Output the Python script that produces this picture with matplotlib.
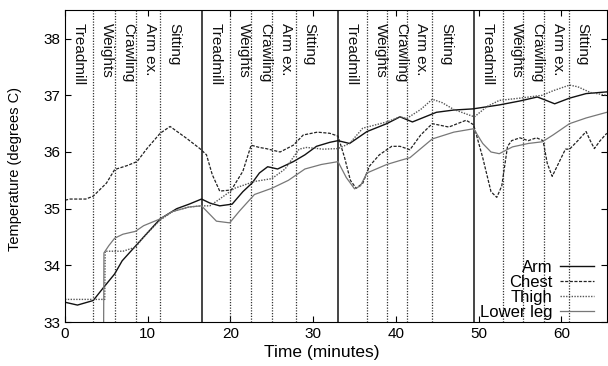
import matplotlib
matplotlib.use("Agg")
import matplotlib.pyplot as plt

plt.rcParams['font.family'] = ['Liberation Sans', 'DejaVu Sans']

# series
arm_t = [0, 1.5, 3.4, 4.6, 6, 6.9, 8.45, 10, 11.5, 13.5, 15, 16.5, 17.5, 18.7, 20.2, 21.5, 22.6, 23.5,
         24.5, 25.7, 27.6, 29, 30.4, 32, 33, 34.4, 36.5, 38.9, 40.5, 42, 44.9, 47, 49.3, 52.5, 55, 57.1,
         58, 59.2, 61, 63, 65.5]
arm_v = [33.35, 33.3, 33.38, 33.6, 33.85, 34.08, 34.33, 34.58, 34.82, 35.0, 35.08, 35.17, 35.1, 35.05,
         35.08, 35.3, 35.45, 35.63, 35.74, 35.7, 35.83, 35.95, 36.1, 36.17, 36.2, 36.15, 36.36, 36.5,
         36.62, 36.53, 36.7, 36.74, 36.76, 36.83, 36.9, 36.97, 36.92, 36.85, 36.95, 37.03, 37.06]

chest_t = [0, 0.6, 2.5, 3.4, 5, 6, 7.5, 8.7, 9.9, 11.5, 12.7, 14.7, 16.3, 17.1, 17.8, 18.7, 20.1, 21.5,
           22.5, 23.5, 24.3, 26, 27.6, 28.8, 30.5, 32, 33, 33.8, 34.5, 35.2, 36, 36.8, 38, 39.5, 40.5,
           41.7, 43, 44.4, 46.4, 48.5, 49.4, 50.5, 51.5, 52.2, 52.8, 53.5, 54, 55, 56, 57, 57.8, 58.3,
           58.9, 59.5, 60.5, 61, 62, 63, 63.5, 64, 64.7, 65.5]
chest_v = [35.15, 35.17, 35.17, 35.22, 35.45, 35.69, 35.76, 35.83, 36.06, 36.33, 36.45, 36.24, 36.06,
           35.95, 35.6, 35.31, 35.33, 35.66, 36.12, 36.08, 36.06, 36.0, 36.12, 36.3, 36.35, 36.33, 36.28,
           35.9, 35.5, 35.36, 35.45, 35.75, 35.95, 36.1, 36.1, 36.04, 36.3, 36.5, 36.44, 36.56, 36.48,
           35.9, 35.3, 35.2, 35.4, 36.1, 36.2, 36.25, 36.2, 36.25, 36.2, 35.8, 35.57, 35.75, 36.05, 36.05,
           36.2, 36.36, 36.2, 36.06, 36.2, 36.33]

thigh_t = [0, 4.8, 4.85, 6, 7, 8.5, 9.5, 10.5, 11.5, 13, 15, 16.5, 17.5, 18.5, 20.5, 22.9, 25, 26.6,
           28.3, 29.2, 31.2, 33, 34.4, 36, 38.9, 40.5, 41.3, 43, 44.4, 45.6, 47, 48.9, 49.5, 51, 52.5,
           55, 57.7, 59, 61, 62, 63.5, 65.5]
thigh_v = [33.4, 33.4, 34.25, 34.25, 34.25, 34.32, 34.5, 34.65, 34.8, 34.95, 35.03, 35.05, 35.05, 35.15,
           35.36, 35.48, 35.53, 35.7, 36.05, 36.08, 36.05, 36.06, 36.15, 36.42, 36.53, 36.62, 36.59,
           36.75, 36.93, 36.87, 36.75, 36.65, 36.62, 36.8, 36.91, 36.95, 37.0, 37.08, 37.18, 37.15,
           37.05, 37.0]

leg_t = [0, 4.65, 4.7, 5.3, 6, 7, 8.5, 9.5, 11.5, 13, 15, 16.5, 17.5, 18.3, 19.9, 21.1, 22.9, 25, 27,
         29, 31, 33, 34, 35, 35.7, 36.5, 38.9, 40.5, 41.7, 44.4, 47, 49.4, 50.5, 51.5, 52.5, 54.1, 56,
         57.7, 59, 61, 63, 65.5]
leg_v = [32.5, 32.5, 34.22, 34.35, 34.48, 34.55, 34.6, 34.7, 34.82, 34.95, 35.03, 35.05, 34.9, 34.78,
         34.75, 34.96, 35.25, 35.36, 35.5, 35.7, 35.78, 35.83, 35.55, 35.35, 35.4, 35.63, 35.78, 35.85,
         35.9, 36.23, 36.35, 36.41, 36.15, 36.0, 35.97, 36.09, 36.15, 36.18, 36.3, 36.5, 36.6, 36.7]

phase_lines = [16.5, 33, 49.4]
activity_lines = [3.4, 6.0, 8.6, 11.5, 19.9, 22.5, 25.0, 27.9, 36.5, 38.9, 41.4, 44.4,
                  52.9, 55.4, 57.9, 60.9]
activities = ["Treadmill", "Weights", "Crawling", "Arm ex.", "Sitting"]
label_x = [0] + sorted(phase_lines + activity_lines)

fig = plt.figure(figsize=(6.08, 3.66), dpi=100)
ax = fig.add_axes([0.107, 0.12, 0.891, 0.852])

for x in phase_lines:
    ax.axvline(x, color='#444444', lw=1.4)
for x in activity_lines:
    ax.axvline(x, color='#333333', lw=0.9, ls=(0, (1, 1.2)))

for i, x in enumerate(label_x):
    ax.text(x + 0.85, 38.27, activities[i % 5], rotation=-90, ha='left', va='top',
            fontsize=11, color='#111111')

ax.plot(arm_t, arm_v, color='#111111', lw=1.0, label='Arm')
ax.plot(chest_t, chest_v, color='#222222', lw=0.9, ls=(0, (2.5, 1.2)), label='Chest')
ax.plot(thigh_t, thigh_v, color='#555555', lw=1.0, ls=(0, (1, 1)), label='Thigh')
ax.plot(leg_t, leg_v, color='#777777', lw=0.9, label='Lower leg')

ax.set_xlim(0, 65.5)
ax.set_ylim(33, 38.5)
ax.set_xticks([0, 10, 20, 30, 40, 50, 60])
ax.set_yticks([33, 34, 35, 36, 37, 38])
ax.tick_params(direction='in', top=True, right=True, labelsize=11, length=4)
ax.set_xlabel('Time (minutes)', fontsize=12.5)
ax.set_ylabel('Temperature (degrees C)', fontsize=10.5)
ax.xaxis.set_label_coords(0.474, -0.072)
ax.yaxis.set_label_coords(-0.079, 0.49)

ax.legend(loc='lower right', bbox_to_anchor=(0.976, 0.008), frameon=False, markerfirst=False,
          fontsize=12, handlelength=2.0, labelspacing=0.0, handletextpad=0.5,
          borderaxespad=0, borderpad=0)

fig.savefig('out.png', dpi=100)
